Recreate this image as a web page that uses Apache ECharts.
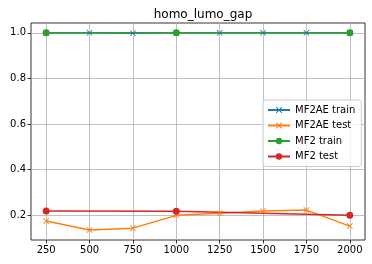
<!DOCTYPE html>
<html><head><meta charset="utf-8">
<script src="https://cdn.jsdelivr.net/npm/echarts@6/dist/echarts.min.js"></script>
<style>html,body{margin:0;padding:0;background:#fff}#c{width:372px;height:264px}</style>
</head><body><div id="c"></div>
<script>
const xTicks = [250, 500, 750, 1000, 1250, 1500, 1750, 2000];
const yTicks = [0.2, 0.4, 0.6, 0.8, 1.0];
const mf2aeX = [250, 500, 750, 1000, 1250, 1500, 1750, 2000];
const mf2aeTrain = [1.0, 1.0, 0.998, 1.0, 1.0, 1.0, 1.0, 1.0];
const mf2aeTest = [0.175, 0.136, 0.144, 0.2, 0.209, 0.219, 0.223, 0.153];
const mf2X = [250, 1000, 2000];
const mf2Train = [1.0, 1.0, 1.0];
const mf2Test = [0.219, 0.218, 0.2];

const xSym = 'path://M0,1L1,0L5,4L9,0L10,1L6,5L10,9L9,10L5,6L1,10L0,9L4,5Z';
const font = 'DejaVu Sans';
function pairs(xs, ys){ return xs.map((x,i)=>[x, ys[i]]); }
function ser(name, xs, ys, color, symbol, size){
  return {name, type:'line', data:pairs(xs, ys), symbol, symbolSize:size,
    showSymbol:true, lineStyle:{color, width:1.5}, itemStyle:{color},
    emphasis:{disabled:true}, animation:false};
}
const chart = echarts.init(document.getElementById('c'), null, {renderer:'canvas'});
chart.setOption({
  animation:false,
  title:{text:'homo_lumo_gap', left:198, top:4, textAlign:'center',
    textStyle:{fontFamily:font, fontSize:12, fontWeight:'normal', color:'#000'}},
  grid:{left:31, right:7, top:23, bottom:24, show:true, borderColor:'#000', borderWidth:0.8, backgroundColor:'transparent'},
  xAxis:{type:'value', min:162.5, max:2087.5,
    axisLine:{show:false},
    axisTick:{show:true, length:3.5, lineStyle:{color:'#000', width:0.8}, customValues:xTicks},
    axisLabel:{customValues:xTicks, color:'#000', fontFamily:font, fontSize:10, margin:5,
      formatter:v=>String(v)},
    splitLine:{show:true, lineStyle:{color:'#b0b0b0', width:0.8}}},
  yAxis:{type:'value', min:0.092, max:1.043,
    axisLine:{show:false},
    axisTick:{show:true, length:3.5, lineStyle:{color:'#000', width:0.8}, customValues:yTicks},
    axisLabel:{customValues:yTicks, color:'#000', fontFamily:font, fontSize:10, margin:5,
      formatter:v=>v.toFixed(1)},
    splitLine:{show:true, lineStyle:{color:'#b0b0b0', width:0.8}}},
  legend:{orient:'vertical', left:263, top:100, itemWidth:22, itemHeight:8, itemGap:5.5,
    padding:[5,6,5,4], backgroundColor:'rgba(255,255,255,0.8)', borderColor:'#ccc', borderWidth:1, borderRadius:3,
    textStyle:{fontFamily:font, fontSize:10, color:'#000'},
    data:['MF2AE train','MF2AE test','MF2 train','MF2 test']},
  series:[
    ser('MF2AE train', mf2aeX, mf2aeTrain, '#1f77b4', xSym, 6),
    ser('MF2AE test', mf2aeX, mf2aeTest, '#ff7f0e', xSym, 6),
    ser('MF2 train', mf2X, mf2Train, '#2ca02c', 'circle', 7),
    ser('MF2 test', mf2X, mf2Test, '#d62728', 'circle', 7)
  ]
});
</script></body></html>
